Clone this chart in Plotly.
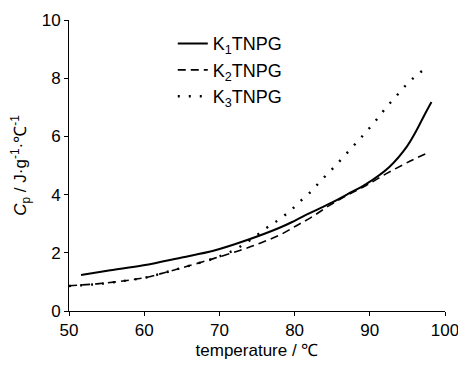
import plotly.graph_objects as go

# K1TNPG (solid)
k1_t = [51.6, 55.5, 59.9, 65.0, 69.2, 73.6, 78.0, 80.0, 82.0, 85.0, 87.0, 89.5, 92.6, 94.9, 96.2, 97.2, 98.2]
k1_cp = [1.24, 1.40, 1.57, 1.84, 2.07, 2.43, 2.86, 3.10, 3.36, 3.73, 4.01, 4.36, 4.95, 5.64, 6.20, 6.70, 7.18]

# K2TNPG (dashed)
k2_t = [50.0, 54.0, 57.7, 60.4, 63.0, 65.5, 69.2, 72.7, 75.4, 78.1, 80.3, 82.1, 84.6, 87.0, 89.5, 92.2, 94.9, 97.8]
k2_cp = [0.87, 0.94, 1.05, 1.16, 1.34, 1.52, 1.80, 2.08, 2.33, 2.62, 2.94, 3.20, 3.62, 3.98, 4.31, 4.72, 5.09, 5.45]

# K3TNPG (dotted)
k3_t = [50.0, 54.0, 57.7, 60.4, 63.0, 65.5, 69.2, 72.0, 74.0, 76.3, 77.8, 79.4, 80.7, 82.2, 83.5, 84.9, 86.2,
        87.5, 88.7, 89.9, 91.1, 92.2, 93.5, 94.8, 96.2, 97.8]
k3_cp = [0.86, 0.93, 1.05, 1.16, 1.34, 1.52, 1.80, 2.10, 2.42, 2.86, 3.12, 3.44, 3.76, 4.11, 4.48, 4.85, 5.21,
         5.58, 5.92, 6.27, 6.64, 7.00, 7.38, 7.76, 8.10, 8.41]

names = ["K<sub>1</sub>TNPG", "K<sub>2</sub>TNPG", "K<sub>3</sub>TNPG"]
x_ticks = [50, 60, 70, 80, 90, 100]
y_ticks = [0, 2, 4, 6, 8, 10]

FONT = "Liberation Sans, Arial, sans-serif"

fig = go.Figure()
fig.add_trace(go.Scatter(x=k1_t, y=k1_cp, mode="lines", name=names[0],
                         line=dict(color="black", width=2, shape="spline")))
fig.add_trace(go.Scatter(x=k2_t, y=k2_cp, mode="lines", name=names[1],
                         line=dict(color="black", width=1.6, dash="8px,5px", shape="spline")))
fig.add_trace(go.Scatter(x=k3_t, y=k3_cp, mode="lines", name=names[2],
                         line=dict(color="black", width=2.4, dash="2px,9px", shape="spline")))

fig.update_layout(
    width=458, height=365,
    margin=dict(l=69, r=13, t=20, b=54),
    paper_bgcolor="white", plot_bgcolor="white",
    font=dict(family=FONT, size=17, color="black"),
    showlegend=True,
    legend=dict(x=0.276, y=0.982, xanchor="left", yanchor="top",
                bgcolor="rgba(0,0,0,0)", font=dict(size=18), tracegroupgap=0),
)
fig.update_xaxes(range=[50, 100], tickvals=x_ticks, showgrid=False, zeroline=False,
                 showline=True, linecolor="black", linewidth=1,
                 ticks="outside", ticklen=4, tickcolor="black",
                 tickfont=dict(size=17), ticklabeloverflow="allow", automargin=False,
                 title=dict(text="temperature / ℃", font=dict(size=17), standoff=4))
fig.update_yaxes(range=[0, 10], tickvals=y_ticks, showgrid=False, zeroline=False,
                 showline=True, linecolor="black", linewidth=1,
                 ticks="outside", ticklen=4, tickcolor="black",
                 tickfont=dict(size=17), ticklabeloverflow="allow", automargin=False,
                 title=dict(text="<i>C</i><sub>p</sub> / J·g<sup>-1</sup>·℃<sup>-1</sup>",
                            font=dict(size=17), standoff=10))

fig.write_html("out.html", config={"displayModeBar": False},
               post_script="document.body.style.margin='0';")
